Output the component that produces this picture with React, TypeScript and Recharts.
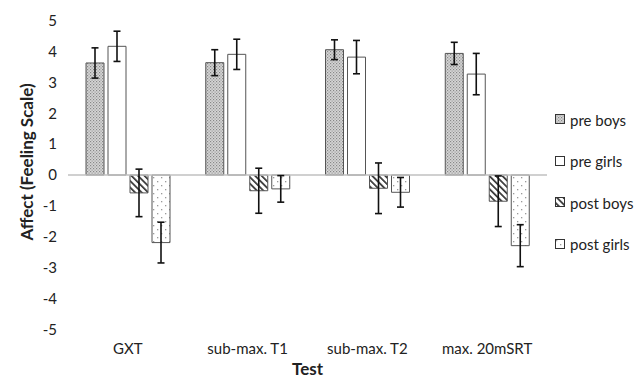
import React from 'react';
import { BarChart, Bar, XAxis, YAxis, ErrorBar, ReferenceLine, Legend, Label } from 'recharts';

const categories = ['GXT', 'sub-max. T1', 'sub-max. T2', 'max. 20mSRT'];
const seriesNames = ['pre boys', 'pre girls', 'post boys', 'post girls'];
const preBoys = [3.63, 3.64, 4.06, 3.94];
const preBoysSD = [0.49, 0.42, 0.32, 0.36];
const preGirls = [4.17, 3.91, 3.82, 3.27];
const preGirlsSD = [0.49, 0.49, 0.54, 0.67];
const postBoys = [-0.58, -0.51, -0.43, -0.85];
const postBoysSD = [0.77, 0.73, 0.82, 0.82];
const postGirls = [-2.19, -0.45, -0.56, -2.29];
const postGirlsSD = [0.66, 0.43, 0.48, 0.68];
const yTicks = [-5, -4, -3, -2, -1, 0, 1, 2, 3, 4, 5];

const data = categories.map((c, i) => ({
  name: c,
  preBoys: preBoys[i], preBoysSD: preBoysSD[i],
  preGirls: preGirls[i], preGirlsSD: preGirlsSD[i],
  postBoys: postBoys[i], postBoysSD: postBoysSD[i],
  postGirls: postGirls[i], postGirlsSD: postGirlsSD[i],
}));

const keys = ['preBoys', 'preGirls', 'postBoys', 'postGirls'];
const FONT = 'Lato, "Liberation Sans", sans-serif';
const OUTLINE = '#555';

const Patterns = ({ suffix }: { suffix: string }) => (
  <defs>
    <pattern id={`pb${suffix}`} width="3" height="3" patternUnits="userSpaceOnUse">
      <rect width="3" height="3" fill="#d6d6d6" />
      <rect x="0" y="0" width="1.2" height="1.2" fill="#888" />
      <rect x="1.5" y="1.5" width="1.2" height="1.2" fill="#999" />
    </pattern>
    <pattern id={`pg${suffix}`} width="4" height="4" patternUnits="userSpaceOnUse">
      <rect width="4" height="4" fill="#ffffff" />
    </pattern>
    <pattern id={`qb${suffix}`} width="4.6" height="4.6" patternUnits="userSpaceOnUse" patternTransform="rotate(-45)">
      <rect width="4.6" height="4.6" fill="#ffffff" />
      <rect x="0" y="0" width="1.7" height="4.6" fill="#333" />
    </pattern>
    <pattern id={`qg${suffix}`} width="8" height="8" patternUnits="userSpaceOnUse">
      <rect width="8" height="8" fill="#ffffff" />
      <rect x="1" y="1" width="1.3" height="1.3" fill="#9a9a9a" />
      <rect x="5" y="5" width="1.3" height="1.3" fill="#9a9a9a" />
    </pattern>
  </defs>
);

const patIds = ['pb', 'pg', 'qb', 'qg'];

const renderLegend = () => (
  <div style={{ fontFamily: FONT, fontSize: 15, color: '#222' }}>
    {seriesNames.map((n, i) => (
      <div key={n} style={{ height: 41.5, display: 'flex', alignItems: 'center' }}>
        <svg width={11} height={11} style={{ marginRight: 4 }}>
          <Patterns suffix={`-lg${i}`} />
          <rect x={0.5} y={0.5} width={9} height={9} fill={`url(#${patIds[i]}-lg${i})`} stroke="#333" strokeWidth={1} />
        </svg>
        <span>{n}</span>
      </div>
    ))}
  </div>
);

export default function App() {
  return (
    <div style={{ position: 'absolute', left: 0, top: 0, width: 641, height: 385, background: '#fff', fontFamily: FONT }}>
      <BarChart
        width={641}
        height={385}
        data={data}
        margin={{ top: 20.7, right: 94, bottom: 0, left: 0 }}
        barSize={18}
        barGap={4}
        style={{ fontFamily: FONT }}
      >
        <Patterns suffix="" />
        <XAxis
          dataKey="name"
          axisLine={false}
          tickLine={false}
          height={55.7}
          tickMargin={8}
          tick={{ fontSize: 15, fill: '#222', fontFamily: FONT }}
        >
          <Label value="Test" position="insideBottom" offset={10} style={{ fontSize: 17, fontWeight: 'bold', fill: '#222', fontFamily: FONT }} />
        </XAxis>
        <YAxis
          width={68}
          domain={[-5, 5]}
          ticks={yTicks}
          interval={0}
          axisLine={false}
          tickLine={false}
          tickMargin={5}
          tick={{ fontSize: 15, fill: '#222', fontFamily: FONT }}
        >
          <Label
            content={() => (
              <text x={26} y={162} transform="rotate(-90 26 162)" textAnchor="middle" dominantBaseline="central"
                style={{ fontSize: 17, fontWeight: 'bold', fill: '#222', fontFamily: FONT }}>
                Affect (Feeling Scale)
              </text>
            )}
          />
        </YAxis>
        <ReferenceLine y={0} stroke="#c0c0c0" strokeWidth={1.5} />
        {keys.map((k, i) => (
          <Bar key={k} dataKey={k} name={seriesNames[i]} fill={`url(#${patIds[i]})`} stroke={OUTLINE} strokeWidth={1} isAnimationActive={false}>
            <ErrorBar dataKey={`${k}SD`} width={3.5} stroke="#111" strokeWidth={1.6} direction="y" />
          </Bar>
        ))}
        <Legend layout="vertical" align="center" verticalAlign="middle" wrapperStyle={{ left: 555, top: 99, width: 86 }} content={renderLegend} />
      </BarChart>
    </div>
  );
}
